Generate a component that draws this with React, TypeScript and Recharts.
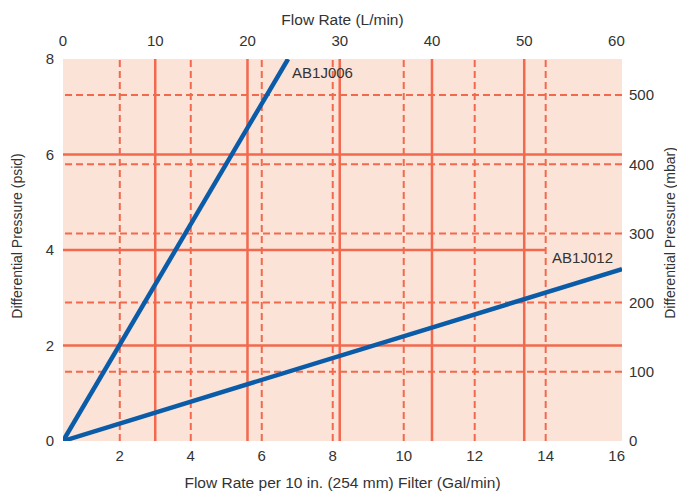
import { LineChart, Line, XAxis, YAxis, CartesianGrid, ReferenceLine, Label, LabelList } from 'recharts';

// bottom axis: gal/min per 10 in. filter
const galTicks = [2, 4, 6, 8, 10, 12, 14, 16];
const galGrid = [2, 4, 6, 8, 10, 12, 14];
const galDomain = [0.4, 16.15];

// top axis: L/min
const lpmTicks = [0, 10, 20, 30, 40, 50, 60];
const lpmGrid = [10, 20, 30, 40, 50];
const lpmDomain = [0, 60.6];

// left axis: psid
const psidTicks = [0, 2, 4, 6, 8];
const psidGridFull = [2, 6];
const psidGridShort = 4;
const psidShortEndGal = 14;

// right axis: mbar
const mbarTicks = [0, 100, 200, 300, 400, 500];
const mbarGrid = [100, 200, 300, 400, 500];
const mbarDomain = [0, 552];

// filter curves (L/min vs psid)
const ab1j006 = [
  { lpm: 0, psid: 0 },
  { lpm: 24.4, psid: 8 },
];
const ab1j012 = [
  { lpm: 0, psid: 0 },
  { lpm: 60.6, psid: 3.6 },
];

const GRID = '#f2694d';
const BLUE = '#0b5ca8';
const TEXT = '#333333';
const FONT = '"Liberation Sans", Arial, Helvetica, sans-serif';

const tickStyle = { fill: TEXT, fontSize: 15, fontFamily: FONT };

const endLabel = (text: string, last: number, dx: number, dy: number, anchor: 'start' | 'end') => (props: any) => {
  if (props.index !== last) return null;
  return (
    <text x={props.x + dx} y={props.y + dy} textAnchor={anchor} fill={TEXT} fontSize={15} fontFamily={FONT}>
      {text}
    </text>
  );
};

export default function App() {
  return (
    <div style={{ position: 'absolute', left: 0, top: 0, fontFamily: FONT }}>
      <LineChart width={677} height={492} margin={{ top: 0, right: 0, bottom: 0, left: 0 }}>
        <CartesianGrid horizontal={false} vertical={false} fill="#fce3d7" fillOpacity={1} stroke="none" xAxisId="lpm" yAxisId="psid" />

        <XAxis xAxisId="gal" dataKey="gal" type="number" orientation="bottom" domain={galDomain} ticks={galTicks} allowDataOverflow
          height={51} axisLine={false} tickLine={false} tickMargin={3} tick={tickStyle}>
          <Label value="Flow Rate per 10 in. (254 mm) Filter (Gal/min)" position="center" dy={15.5} fill={TEXT} fontSize={15.5} fontFamily={FONT} />
        </XAxis>
        <XAxis xAxisId="lpm" dataKey="lpm" type="number" orientation="top" domain={lpmDomain} ticks={lpmTicks} allowDataOverflow
          height={59} axisLine={false} tickLine={false} tickMargin={7} tick={tickStyle}>
          <Label value="Flow Rate (L/min)" position="center" dy={-10.5} fill={TEXT} fontSize={15.5} fontFamily={FONT} />
        </XAxis>
        <YAxis yAxisId="psid" type="number" orientation="left" domain={[0, 8]} ticks={psidTicks} allowDataOverflow
          width={63} axisLine={false} tickLine={false} tickMargin={3} tick={tickStyle}>
          <Label value="Differential Pressure (psid)" position="center" angle={-90} dx={-14.5} dy={-14} fill={TEXT} fontSize={14} fontFamily={FONT} />
        </YAxis>
        <YAxis yAxisId="mbar" type="number" orientation="right" domain={mbarDomain} ticks={mbarTicks} allowDataOverflow
          width={55} axisLine={false} tickLine={false} tickMargin={1} tick={tickStyle}>
          <Label value="Differential Pressure (mbar)" position="center" angle={-90} dx={20.5} dy={-17} fill={TEXT} fontSize={14} fontFamily={FONT} />
        </YAxis>

        {galGrid.map((g) => (
          <ReferenceLine key={`gv-${g}`} x={g} xAxisId="gal" yAxisId="psid" stroke={GRID} strokeWidth={2} strokeDasharray="7 4" />
        ))}
        {mbarGrid.map((m) => (
          <ReferenceLine key={`mh-${m}`} y={m} xAxisId="lpm" yAxisId="mbar" stroke={GRID} strokeWidth={2} strokeDasharray="7 4" />
        ))}
        {lpmGrid.map((l) => (
          <ReferenceLine key={`lv-${l}`} x={l} xAxisId="lpm" yAxisId="psid" stroke={GRID} strokeWidth={2.5} />
        ))}
        {psidGridFull.map((p) => (
          <ReferenceLine key={`ph-${p}`} y={p} xAxisId="lpm" yAxisId="psid" stroke={GRID} strokeWidth={2.5} />
        ))}
        <ReferenceLine
          segment={[{ x: galDomain[0], y: psidGridShort }, { x: psidShortEndGal, y: psidGridShort }]}
          xAxisId="gal" yAxisId="psid" stroke={GRID} strokeWidth={2.5}
        />

        <Line data={ab1j006} dataKey="psid" xAxisId="lpm" yAxisId="psid" stroke={BLUE} strokeWidth={4.5} dot={false} isAnimationActive={false}>
          <LabelList dataKey="psid" content={endLabel('AB1J006', ab1j006.length - 1, 4, 19, 'start')} />
        </Line>
        <Line data={ab1j012} dataKey="psid" xAxisId="lpm" yAxisId="psid" stroke={BLUE} strokeWidth={4.5} dot={false} isAnimationActive={false}>
          <LabelList dataKey="psid" content={endLabel('AB1J012', ab1j012.length - 1, -9, -6, 'end')} />
        </Line>
      </LineChart>
    </div>
  );
}
